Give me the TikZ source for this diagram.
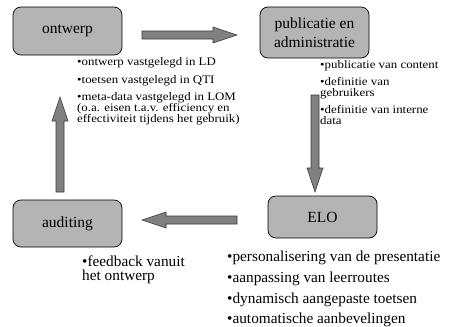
\documentclass[tikz,border=0pt]{standalone}
\usepackage{fontspec}
\setmainfont{Liberation Serif}
\newfontfamily\notefont[FakeStretch=1.12]{Liberation Serif}
\definecolor{boxgray}{HTML}{B4B4B4}
\definecolor{arrowgray}{HTML}{808080}
\definecolor{edgegray}{HTML}{3A3A3A}
\tikzset{
  stage/.style={draw=black, fill=boxgray, rounded corners=8pt, line width=0.7pt,
    minimum width=109pt, inner sep=0pt, align=center,
    font=\fontsize{15.5}{18.5}\selectfont},
  smalltxt/.style={anchor=base west, inner sep=0pt, font=\notefont\fontsize{11.5}{11}\selectfont},
  bigtxt/.style={anchor=base west, inner sep=0pt, font=\fontsize{15.3}{16}\selectfont},
  arrowline/.style={draw=edgegray, fill=arrowgray, line width=0.6pt, line join=miter},
  barrow/.pic={
    \path[arrowline] (0,-4) -- (#1-24,-4) -- (#1-24,-8) -- (#1,0)
      -- (#1-24,8) -- (#1-24,4) -- (0,4) -- cycle;
  }
}
\begin{document}
\begin{tikzpicture}[x=1pt, y=-1pt]
\useasboundingbox (0,0) rectangle (453,327);

% the four stages of the cycle
\node[stage, minimum height=48pt] (ontwerp) at (67.5,31) {ontwerp};
\node[stage, minimum height=51pt] (publ) at (314.5,32.5) {publicatie en\\administratie};
\node[stage, minimum height=42pt] (elo) at (322.5,217) {ELO};
\node[stage, minimum height=47pt] (audit) at (67.5,223.5) {auditing};

% block arrows between the stages
\coordinate (a1) at (142,35);
\coordinate (a2) at (315,95);
\coordinate (a3) at (237,220);
\coordinate (a4) at (60,192);
\pic at (a1) {barrow=95};
\pic[rotate=-90] at (a2) {barrow=97};
\pic[rotate=180] at (a3) {barrow=95};
\pic[rotate=90] at (a4) {barrow=95};

% notes under "ontwerp"
\node[smalltxt] (o1) at (77,65) {•ontwerp vastgelegd in LD};
\node[smalltxt] (o2) at (77,83) {•toetsen vastgelegd in QTI};
\node[smalltxt] (o3) at (77,100) {•meta-data vastgelegd in LOM};
\node[smalltxt] (o4) at (77,111) {(o.a. eisen t.a.v. efficiency en};
\node[smalltxt] (o5) at (77,122) {effectiviteit tijdens het gebruik)};

% notes under "publicatie en administratie"
\node[smalltxt] (p1) at (320,68) {•publicatie van content};
\node[smalltxt] (p2) at (320,85) {•definitie van};
\node[smalltxt] (p3) at (320,96) {gebruikers};
\node[smalltxt] (p4) at (320,113) {•definitie van interne};
\node[smalltxt] (p5) at (320,124) {data};

% notes under "auditing"
\node[bigtxt] (f1) at (82,266) {•feedback vanuit};
\node[bigtxt] (f2) at (82,280) {het ontwerp};

% notes under "ELO"
\node[bigtxt] (e1) at (227,261) {•personalisering van de presentatie};
\node[bigtxt] (e2) at (227,282) {•aanpassing van leerroutes};
\node[bigtxt] (e3) at (227,303) {•dynamisch aangepaste toetsen};
\node[bigtxt] (e4) at (227,323) {•automatische aanbevelingen};
\end{tikzpicture}
\end{document}
